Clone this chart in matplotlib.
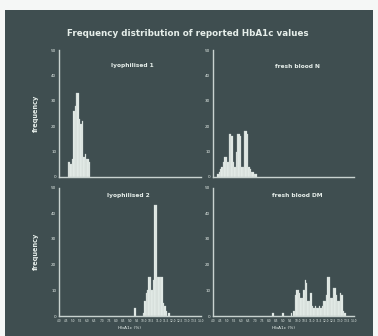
"""Frequency distribution of reported HbA1c values (four histograms)."""

import matplotlib

matplotlib.use("Agg")
import matplotlib.pyplot as plt
from matplotlib.patches import Rectangle

# HbA1c bins (left edge, %) and counts
lyo1_bins = [4.6, 4.7, 4.8, 4.9, 5.0, 5.1, 5.2, 5.3, 5.4, 5.5, 5.6, 5.7, 5.8, 5.9, 6.0, 6.1]
lyo1_counts = [6, 6, 5, 7, 26, 28, 33, 33, 23, 21, 22, 8, 9, 7, 7, 6]

fresh_n_bins = [4.3, 4.4, 4.5, 4.6, 4.7, 4.8, 4.9, 5.0, 5.1, 5.2, 5.3, 5.4, 5.5, 5.6,
                5.7, 5.8, 5.9, 6.0, 6.1, 6.2, 6.3, 6.4, 6.5, 6.6, 6.7, 6.8, 6.9, 7.0]
fresh_n_counts = [1, 2, 3, 4, 6, 8, 8, 6, 17, 17, 16, 6, 4, 10,
                  17, 17, 16, 4, 4, 18, 18, 17, 4, 3, 2, 2, 1, 1]

lyo2_bins = [9.3, 9.9, 10.0, 10.1, 10.2, 10.3, 10.4, 10.5, 10.6, 10.7,
             10.8, 10.9, 11.0, 11.1, 11.2, 11.3, 11.4, 11.5, 11.7]
lyo2_counts = [3, 1, 6, 9, 10, 15, 15, 10, 14, 43, 43, 15, 15, 15, 15, 5, 4, 2, 1]

dm_bins = [8.2, 8.9, 9.5, 9.7, 9.8, 9.9, 10.0, 10.1, 10.2, 10.3, 10.4, 10.5, 10.6, 10.7,
           10.8, 10.9, 11.0, 11.1, 11.2, 11.3, 11.4, 11.5, 11.6, 11.7, 11.8, 11.9, 12.0,
           12.1, 12.2, 12.3, 12.4, 12.5, 12.6, 12.7, 12.8, 12.9, 13.0, 13.1, 13.2, 13.3]
dm_counts = [1, 1, 1, 2, 8, 10, 10, 9, 7, 7, 10, 14, 13, 6,
             6, 9, 4, 3, 4, 3, 3, 4, 3, 4, 6, 6, 8,
             15, 15, 7, 7, 11, 11, 8, 6, 6, 9, 8, 2, 1]

panel_titles = ["lyophilised 1", "fresh blood N", "lyophilised 2", "fresh blood DM"]
x_ticks = [4.0, 4.5, 5.0, 5.5, 6.0, 6.5, 7.0, 7.5, 8.0, 8.5, 9.0, 9.5, 10.0,
           10.5, 11.0, 11.5, 12.0, 12.5, 13.0, 13.5, 14.0]
y_ticks = [0, 10, 20, 30, 40, 50]

BG = "#3f4e50"
FG = "#e6eeea"
AX = "#c9d3d0"

fig = plt.figure(figsize=(3.78, 3.36), dpi=100)
fig.patch.set_facecolor("#f5f7f6")
fig.add_artist(Rectangle((5 / 378, 0), 368 / 378, 326 / 336, transform=fig.transFigure,
                         facecolor=BG, edgecolor="none", zorder=-10))

fig.text(188 / 378, 1 - 33 / 336, "Frequency distribution of reported HbA1c values",
         ha="center", va="center", color=FG, fontsize=6.3, fontweight="bold")

positions = [
    [59 / 378, 159 / 336, 142 / 378, 127 / 336],
    [213 / 378, 159 / 336, 141 / 378, 127 / 336],
    [59 / 378, 20 / 336, 142 / 378, 128.5 / 336],
    [213 / 378, 20 / 336, 141 / 378, 128.5 / 336],
]
data = [(lyo1_bins, lyo1_counts), (fresh_n_bins, fresh_n_counts),
        (lyo2_bins, lyo2_counts), (dm_bins, dm_counts)]
title_xy = [(0.52, 0.88), (0.60, 0.87), (0.49, 0.94), (0.60, 0.94)]

for i, (pos, (bins, counts)) in enumerate(zip(positions, data)):
    ax = fig.add_axes(pos)
    ax.set_facecolor("none")
    ax.bar(bins, counts, width=0.1, align="edge", color=FG, edgecolor="#c3cdca",
           linewidth=0.2, zorder=2)
    ax.set_xlim(4.0, 14.0)
    ax.set_ylim(0, 50)
    for side in ("top", "right"):
        ax.spines[side].set_visible(False)
    for side in ("left", "bottom"):
        ax.spines[side].set_color(AX)
        ax.spines[side].set_linewidth(1.0)
    ax.set_yticks(y_ticks)
    ax.set_yticklabels([str(v) for v in y_ticks])
    ax.tick_params(axis="y", length=0, pad=2, labelsize=3, labelcolor=FG)
    if i >= 2:
        ax.set_xticks(x_ticks)
        ax.set_xticklabels([f"{v:.1f}" for v in x_ticks])
        ax.tick_params(axis="x", length=0, pad=2, labelsize=2.1, labelcolor=FG)
        ax.set_xlabel("HbA1c (%)", fontsize=3.2, color=FG, labelpad=2)
    else:
        ax.set_xticks([])
    if i % 2 == 0:
        ax.set_ylabel("frequency", fontsize=4.8, color=FG, fontweight="bold", labelpad=9)
    tx, ty = title_xy[i]
    ax.text(tx, ty, panel_titles[i], transform=ax.transAxes, ha="center", va="center",
            color=FG, fontsize=4.2, fontweight="bold")

fig.savefig("out.png", dpi=100, facecolor=fig.get_facecolor())
